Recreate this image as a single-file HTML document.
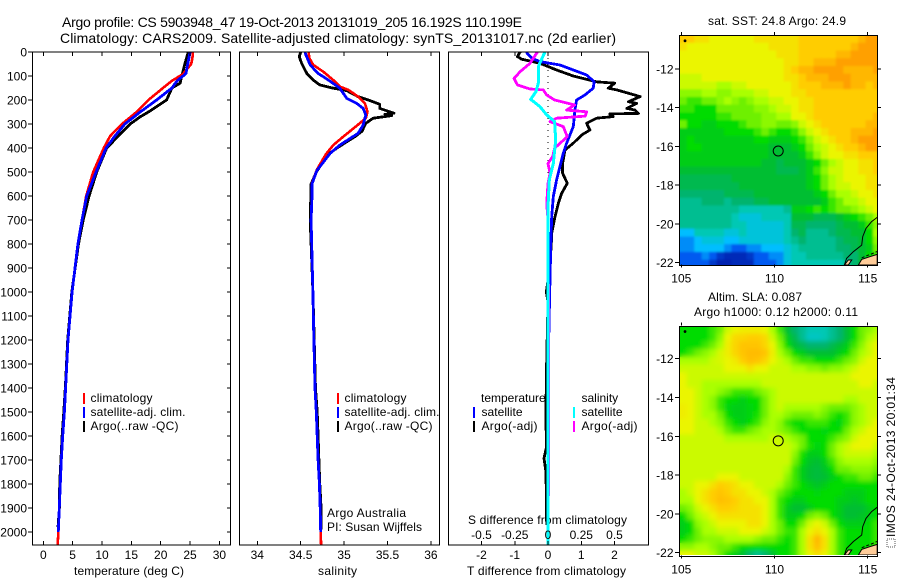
<!DOCTYPE html>
<html lang="en">
<head>
<meta charset="utf-8">
<title>Argo profile CS 5903948_47</title>
<style>
html,body{margin:0;padding:0;background:#fff;}
svg{display:block;font-family:"Liberation Sans",sans-serif;fill:#000;}
text{font-size:12px;}
.title{font-size:14px;}
</style>
</head>
<body>
<svg id="chart" width="900" height="580" viewBox="0 0 900 580" xmlns="http://www.w3.org/2000/svg">
<defs>
<clipPath id="clip-temp"><rect x="32.5" y="52" width="198" height="493"/></clipPath>
<clipPath id="clip-sal"><rect x="239.5" y="52" width="200" height="493"/></clipPath>
<clipPath id="clip-diff"><rect x="448.5" y="52" width="200" height="493"/></clipPath>
<clipPath id="clip-sst"><rect x="679.5" y="35" width="198" height="230"/></clipPath>
<clipPath id="clip-sla"><rect x="679.5" y="326" width="198" height="229"/></clipPath>
<filter id="soft-sst" x="-5%" y="-5%" width="110%" height="110%"><feGaussianBlur stdDeviation="1"/></filter>
<filter id="soft-sla" x="-5%" y="-5%" width="110%" height="110%"><feGaussianBlur stdDeviation="2.5"/></filter>
</defs>
<text class="title" x="62" y="27" textLength="460">Argo profile: CS 5903948_47  19-Oct-2013 20131019_205 16.192S 110.199E</text>
<text class="title" x="60" y="43" textLength="556">Climatology: CARS2009. Satellite-adjusted climatology: synTS_20131017.nc (2d earlier)</text>
<text x="74" y="575" textLength="110">temperature (deg C)</text>
<text x="318" y="575" textLength="39">salinity</text>
<text x="468" y="524" textLength="159">S difference from climatology</text>
<text x="467" y="575" textLength="159">T difference from climatology</text>
<text x="708" y="25" textLength="138">sat. SST: 24.8 Argo: 24.9</text>
<text x="708" y="301" textLength="94">Altim. SLA: 0.087</text>
<text x="694" y="316" textLength="164">Argo h1000: 0.12 h2000: 0.11</text>
<text x="327" y="517" textLength="79">Argo Australia</text>
<text x="327" y="531" textLength="95">PI: Susan Wijffels</text>
<g>
<rect x="887" y="539" width="8" height="8" fill="none" stroke="#555" stroke-width="1" stroke-dasharray="1 1"/>
<text transform="translate(895 537) rotate(-90)" textLength="160">IMOS 24-Oct-2013 20:01:34</text>
</g>
</svg>
<script>
// ----- profile depth ticks and axis ticks -----
const depthTicks = [0,100,200,300,400,500,600,700,800,900,1000,1100,1200,1300,1400,1500,1600,1700,1800,1900,2000];
const tempTicks = [0,5,10,15,20,25,30];
const salTicks = [34,34.5,35,35.5,36];
const tDiffTicks = [-2,-1,0,1,2];
const sDiffTicks = [-0.5,-0.25,0,0.25,0.5];
const lonTicks = [105,110,115];
const latTicks = [12,14,16,18,20,22];

// ----- temperature panel -----
const climTempDepth = [0,25,50,92,120,150,200,250,300,350,400,500,600,700,800,1000,1200,1400,1500,1600,1700,1800,1900,2000,2055];
const climTemp = [25.5,25.4,25.2,23.8,21.9,20.4,17.9,15.9,13.4,11.4,10.3,8.5,7.3,6.6,5.9,4.9,4.2,3.8,3.6,3.3,3.07,2.9,2.73,2.55,2.45];
const satTempDepth = [0,50,90,120,150,200,250,300,350,400,500,600,700,800,1000,1200,1400,1500,1600,1700,1800,1900,2000];
const satTemp = [25,24.6,24.3,22.8,21.9,19.3,16.5,13.9,12.2,10.7,9,7.4,6.6,5.9,4.9,4.2,3.8,3.6,3.3,3.07,2.9,2.73,2.55];
const argoTempDepth = [0,50,100,130,150,200,250,270,300,350,400,500,600,700,800,1000,1200,1400,1500,1600,1700,1800,1900,1980];
const argoTemp = [24.7,24.1,23.6,23.3,21.9,21,17.9,16.5,14.8,12.8,10.8,9.1,7.8,6.8,6,4.85,4.15,3.75,3.5,3.2,3,2.8,2.75,2.5];

// ----- salinity panel -----
const climSalDepth = [0,26,54,82,117,144,158,186,214,249,276,297,318,353,388,426,491,547,600,700,1000,1170,1400,1500,1600,1700,1800,1900,2000,2055];
const climSal = [34.59,34.6,34.645,34.76,34.875,34.95,35.05,35.16,35.24,35.27,35.25,35.18,35.11,34.99,34.875,34.79,34.685,34.63,34.63,34.62,34.64,34.65,34.665,34.68,34.69,34.7,34.715,34.725,34.73,34.735];
const satSalDepth = [0,12,54,89,117,151,193,214,235,262,304,339,360,388,422,494,550,600,700,1000,1170,1400,1500,1600,1700,1800,1900,2000];
const satSal = [34.55,34.56,34.61,34.7,34.82,34.95,35.03,35.145,35.22,35.25,35.22,35.16,35.07,34.95,34.84,34.685,34.63,34.63,34.62,34.64,34.65,34.665,34.68,34.69,34.7,34.715,34.725,34.73];
const argoSalDepth = [0,19,47,89,117,137,151,161,186,200,218,235,255,260,265,276,297,311,329,353,374,401,426,500,550,700,1000,1400,1500,1600,1700,1800,1900,1990];
const argoSal = [34.5,34.484,34.51,34.57,34.645,34.72,34.875,35.03,35.16,35.28,35.41,35.41,35.575,35.47,35.55,35.335,35.25,35.23,35.21,35.125,35.03,34.915,34.82,34.68,34.62,34.61,34.64,34.67,34.69,34.7,34.71,34.72,34.735,34.735];

// ----- difference panel -----
const satTDiffDepth = [0,26,40,54,75,96,124,151,179,200,242,311,380,422,533,603,686,769,1000,1200,1400,2000];
const satTDiff = [-0.66,-0.49,-0.24,0.36,0.76,1.16,1.39,1.36,1.11,0.86,0.81,0.76,0.56,0.46,0.26,0.16,0.11,0.09,0.05,0.02,0,0];
const argoTDiffDepth = [0,19,30,47,75,100,124,130,151,158,186,207,214,235,242,256,258,269,276,297,325,346,380,408,464,505,547,589,631,686,755,800,900,1000,1040,1360,1500,1650,1693,1750,1970];
const argoTDiff = [-0.84,-0.92,-0.79,-0.24,0.26,0.76,1.46,2.01,1.81,2.07,2.77,2.42,2.67,2.37,2.62,2.72,1.86,1.96,1.46,1.16,1.26,1.01,0.76,0.51,0.44,0.44,0.58,0.41,0.31,0.21,0.11,0.1,0.05,-0.05,0,-0.05,-0.06,-0.05,-0.12,-0.06,-0.04];
const satSDiffDepth = [0,61,130,165,197,228,262,290,367,464,533,644,1000,2055];
const satSDiff = [-0.023,-0.073,-0.073,-0.09,-0.13,-0.06,-0.01,0.05,0.058,0.04,0.01,0,0,0];
const argoSDiffDepth = [0,47,82,110,137,154,158,179,200,221,242,249,267,276,290,311,353,401,436,464,505,547,631,700,1000,1400,1850];
const argoSDiff = [-0.08,-0.135,-0.21,-0.255,-0.23,-0.135,-0.035,-0.01,0.05,0.2,0.14,0.29,0.28,0.065,0.015,0.115,0.145,0.05,0.035,0,0.015,0,-0.01,0,0.003,0.006,0.006];

// ----- map data: colour-scale value per 0.4 degree cell, rows north to south -----
const sstGrid = [
[10,10,9.5,9.5,9,9,9,9,9,9,9.5,9.5,9.5,9.5,9.5,9.5,10,10,10,10,10,10,10,10,10.5,11,11],
[9.5,9,9,9,9,9,9,9,9,9,9,9,9.5,9.5,9.5,9.5,10,10,10,10,10,10,10,10.5,11,11,11],
[9,9,9,9,9,9,9,9,9,9,9,9,9,9.5,9.5,9.5,10,10,10,10,10,10.5,10.5,11,11,11,11],
[9,9,9,9,9,9,9,9,9,9,9,9,9,9,9.5,9.5,10,10,10.5,10.5,10.5,11,11,11,11,11,11],
[9,9,9,9,9,9,9,9,9,9,9,9,9,9,9.5,10,10.5,10.5,11,11,11,11,10.5,10.5,10.5,10.5,11],
[8.5,8.5,8.5,9,9,9,9,9,9,9,9,9,9,9,9.5,9.5,10,10.5,10.5,10.5,11,11,11,10.5,10.5,10.5,10.5],
[8.5,8.5,8.5,8.5,8.5,8,8,8.5,8.5,9,9,9,9,9,9,9.5,10,10,10,10.5,10.5,10.5,11,10.5,10.5,10,10.5],
[7.5,7.5,7.5,8,8,7.5,7.5,8,8,8,8.5,8.5,9,9,9,9.5,9.5,10,10,10,10,10,10,10,10,10,10],
[7,6.5,6.5,7,7,7.5,8,7.5,7,7.5,8,8,8.5,8.5,9,9,9.5,9.5,10,10,10,10,10,10,10,10,10],
[6.5,6.5,6,6,6,7,7,7,7,7,7.5,7.5,8,8.5,8.5,9,9.5,9.5,10,10,10,10,10,10,10,10,10],
[6,6,6,6,6,6.5,6.5,7,7,7,7,7.5,7.5,8,8,9,9,9.5,10,10,10,10,10,10,10,10,10.5],
[7,6,6,5.5,5.5,6,6,6,6.5,7,7,7.5,7.5,7,7,7.5,8.5,9,9.5,10,10,10,10,10,10,10.5,10.5],
[5.5,5.5,5.5,5.5,5.5,5.5,6,6,6,6,6.5,7,6.5,6,6,6.5,7.5,8.5,9,9.5,10,10,10,10.5,10.5,10.5,11],
[5.5,6,5.5,5.5,5.5,5.5,5.5,5.5,5.5,5.5,6,6,5.5,5.5,5.5,6,6.5,7.5,8.5,9,9.5,10,10,10.5,11,11,11],
[5.5,6,6,5.5,5.5,5.5,5.5,5.5,5.5,5.5,5.5,5.5,5,5,5,5.5,6,7,8,8.5,9,9.5,10,10,10.5,11,11],
[5.5,5.5,5.5,5.5,5.5,5.5,5.5,5.5,5.5,5.5,5.5,5.5,5,5,5,5,5.5,6.5,7.5,8.5,9,9,9.5,9.5,10,10,10],
[5.5,5.5,5.5,5.5,5.5,5.5,5.5,5.5,5.5,5.5,5.5,5,5,4.5,5,5,5,5.5,6,7,8,8.5,9,9,9.5,9.5,10],
[5,5,5,5,5,5,5,5,5,5,5,5,5,4.5,4.5,4.5,5,5.5,6.5,7.5,8.5,8.5,9,9,9.5,9.5,10],
[4.5,4.5,4.5,4.5,4.5,4.5,4.5,5,5,5,5,5,5,5,5,5,5,5.5,6,7,8,8.5,9,9,9,9.5,9.5],
[4.5,4.5,4.5,4.5,4.5,4.5,4.5,4.5,5,5,5,5,5,5,5,5,5,5.5,6,7,8,8.5,8.5,9,9,9.5,9.5],
[4,4,4,4,4,4,4.5,4.5,4.5,4.5,5,5,5,5,5,5,5,5,5.5,6,7,8,8,8.5,9,9,9.5],
[3.5,3.5,3.5,4,4,4,3.5,4,4,4,4.5,4.5,5,5,5,5,5,5,5,5.5,6.5,7,8,8,8.5,9,9],
[3.5,3.5,3.5,3.5,3.5,3.5,3.5,3.5,3,3,3,3,3,3,3.5,5.5,5.5,6,6.5,6,6.5,7,7,7.5,8,8.5,9],
[3.5,3.5,3.5,3.5,3.5,3.5,3.5,3,2.5,2.5,2.5,3,3,3,3,5,5,5,4.5,4.5,4.5,5,5.5,6,6.5,7,8],
[3.5,3.5,3.5,3.5,3.5,3.5,3.5,3,3,2.5,2.5,2.5,2.5,2.5,3,4.5,4.5,4,4,4,4,4.5,5,5,5.5,6.5,7.5],
[2,2,3,3,3,3,2.5,2.5,3,2.5,2.5,2.5,2.5,2.5,3,4,4.5,3.5,3.5,3.5,4,4.5,4.5,5,5,6,8],
[1.5,1.5,2,2.5,2.5,2.5,2,2,2.5,2.5,2.5,2.5,2.5,2.5,3,3.5,4,3.5,3.5,3.5,3.5,4,4.5,4.5,5,6,7.5],
[1.5,1.5,2,2,2,2,1.5,1,1,1.5,1.5,2,2,2,2.5,3,3.5,3.5,3.5,3.5,3.5,4,4,4.5,5,5.5,7],
[1,1,1,1.5,1,0.5,0.3,0.3,0.3,0.5,1,1,1.5,1.5,2.5,3,3,3.5,3.5,3.5,3.5,3.5,4,4,5,6,6.5],
[1,1,1,1,0.5,0.2,0.2,0.3,0.3,0.3,1,1,1,1.5,2.5,3,3,3,3,3,3,3,3.5,4,5,6,6.5]
];
const slaGrid = [
[6,6,6,6,6.5,7,8.5,9,9.2,9.2,9.2,9,8,6.5,5,4,3.5,3,3,3,3.5,4,5,6,7,7.5,8],
[6,6,6,6,6.5,7.5,9,9.7,9.8,10,10,9.7,8.5,7,5.5,4.5,3.5,2.8,2.8,3,3.5,4,5,6,7,8,8.5],
[6,6,6,6.5,7,8,9.2,9.8,10.2,10.2,10.2,9.8,9,7.5,6,5,4.5,4,4,4,4.5,5,5.5,6.5,7.5,8.5,9],
[6,6.5,7,7.5,8,8.7,9.2,9.8,10.2,10.4,10.4,10.2,9.2,8,7,6,5.5,5,5,5,5,5.5,6,7,8,8.5,9],
[8,8,8,8,8.5,8.7,9,9.3,10,10.3,10.2,9.8,9,8.5,8,7,6.5,6.5,6,6,6,6.5,7,7.5,8.5,9,9],
[8.5,8.5,8.5,8.5,8.5,8.5,9,9,9,9.5,9,9,8.5,8.5,8.5,8,8,7.5,7.5,7,7.5,7.5,8,8.5,9,9,9],
[9,8.5,8.5,8.5,8.5,8.5,8.5,8.5,8.5,8.5,8.5,8.5,8.5,8.5,8.5,8.5,8.5,8.5,8.5,8.5,8.5,8.5,8.5,9,9,9,9],
[9,8.5,8.5,8,8,8,8,8,8,8,8,8.5,8.5,8.5,8.5,8.5,8.5,8.5,8.5,8.5,8.5,8.5,8.5,8.5,9,9,8.5],
[9,9,8.5,8,8,7.5,7,6.5,6.5,6.5,7,7.5,8,8.5,8.5,8.5,8.5,8.5,8.5,8.5,8.5,8.5,8.5,8.5,8.5,8.5,8.5],
[9,9,8.5,8,7.5,6.5,6,6,5.5,6,6,7,8,8.5,8.5,8.5,8.5,8.5,8.5,8.5,8.5,8.5,8,8,8.5,8.5,8.5],
[9.2,9,8.5,8,7.5,6.5,5.8,5.5,5.5,5.8,6,7,8,8.5,8,8,8,8,8,7.5,7,7,7,7.5,8,8.5,8.5],
[9.2,9,8.5,8,8,7,6,5.5,5.5,5.8,6.2,7,8,8,7.5,7,7,7,7.5,7,6.5,6,6.5,7.5,8,8.5,8.5],
[9,9,8.5,8.5,8,7.5,6.5,6,5.5,6,6.5,7.5,8,7.5,6.5,6,6,6.5,6.5,6.5,6,5.8,6.5,7.5,8,8.5,9],
[9,9,8.5,8.5,8.5,8,7,6.5,6.5,7,7.5,8,8,7.5,7,6.5,6,6,6,5.8,6,6,7,8,8.5,9,9],
[8.5,8.5,8.5,8.5,8.5,8.5,8,8,8,8,8,8,8.5,8.5,8,7.5,7,6,6,6,6.5,7,7.5,8.5,9,9,9],
[8.5,8.5,8.5,8.5,8.5,8.5,8.5,8.5,8.5,8.5,8.5,8.5,8.5,8.5,8.5,8,7,6.2,5.8,6,7,8,8.5,9,9,9,8.5],
[8.5,8.5,8.5,8.5,8.5,8.5,8.5,8.5,8.5,8.5,8.5,8.5,8.5,8.5,8.5,7.5,6.2,5.5,5.5,6,7,8,8.5,8.5,8.5,8.5,8],
[8.5,8.5,8.5,8.5,8.5,8.5,8.5,8.5,8.5,8.5,8.5,8.5,8.5,8.5,8.5,7,6,5.2,5,5.5,6.5,7.5,8,8,8,8,7.5],
[8.5,8.5,8.5,8.5,8.5,8.5,8.5,8.5,8.5,8.5,8.5,8.5,8.5,8.5,8,6.5,5.5,5,4.8,5.2,6,7,7,7.5,7.5,7.5,7],
[8.5,8.5,8.5,8.5,8.5,9,9,9,8.5,8.5,8.5,8.5,8.5,8.5,7.5,6.5,5.5,5,4.8,5,5.5,6,6.5,6.5,7,7,6.5],
[8.5,8.5,9,9,9.5,10,9.8,9.5,9,9,8.5,8.5,8.5,8,7,6.5,6,5.5,5.2,5.5,6,6,6,6,6,6,6],
[8,8.5,9,9.5,10,10.2,10,9.5,9.5,9,9,8.5,8,7,6.5,6,6,6,5.8,6,6,6,5.5,5.5,5.5,6,6],
[8,8,9,9.5,10,10.3,10.2,10,9.5,9.5,9,9,8,6.5,6,5.5,5.5,6,6,6,6,5.5,5.5,5.2,5.5,6,6],
[7,7.5,8.5,9,9.5,10,10,9.8,9.5,9.5,9.5,9,8,6.5,5.5,5,5,5.5,6,6,6,5.5,5,5,5,5.5,6],
[6,7,8,8.5,9,9.5,9.5,9.5,9.5,9.5,9.5,9,8,6.5,5.5,5.5,6,7,7.5,7,6,5.5,5,5,5.2,5.5,6],
[5.5,6,7.5,8,8.5,9,9,9,9,9.5,9.5,9,8,7,6,6,7,8.5,9,8.5,7,6,5.5,5.5,5.5,6,6.5],
[5.5,6,7,8,8,8.5,8.5,8.5,9,9,9,8.5,8,7,6.5,6.5,8,9,9.5,9,8,6.5,6,6,6,6,6.5],
[6,6.5,7,7.5,7.5,7.5,8,8,8,8,7.5,7,7,6.5,6,6.5,8,9.5,10.5,9.5,8,6.5,6,6,6,6,6.5],
[7.5,7.5,8,8,7.5,7,7,6.5,6,6,6,6,6,6,6,6.5,8,9.5,10.3,9.5,8,6.5,6,6,6,6,6.5],
[9,9,8.5,8.5,8,7,6,5.5,5,4,3.5,4,5,6,6,6.5,8,9,9.5,9,8,6.5,6,6,6,6,6.5]
];

// ----- coastline, land and profile location in degrees E / degrees S -----
const coastLon = [115.51,115.21,114.91,114.73,114.68,114.23,113.87,113.75];
const coastLat = [19.66,19.88,20.23,20.66,21.09,21.43,21.78,22.12];
const landLon = [114.5,114.68,115.12,115.51,115.51];
const landLat = [22.12,21.83,21.69,21.57,22.12];
const islandLon = [113.75,113.96,114.14,113.96];
const islandLat = [22.12,21.86,21.86,22.12];
const reefLon = [114.68,115.0,115.2,115.51];
const reefLat = [21.75,21.62,21.55,21.42];
const profileLon = 110.199;
const profileLat = 16.192;

// ----- colour scale stops -----
const scaleColors = [[0,20,160],[0,90,240],[0,190,255],[0,200,180],[0,180,110],[0,190,50],[0,220,0],[110,240,0],[170,255,0],[235,245,0],[255,205,0],[255,160,0]];

// ----- axis functions -----
const yD = d => 52 + 0.24 * d;
const xTemp = t => 43.3 + 5.87 * t;
const xSal = s => 257.3 + 86.8 * (s - 34);
const xTDiff = t => 548 + 33.25 * t;
const xSDiff = s => 548 + 133 * s;
const xLon = lon => 681.3 + 18.64 * (lon - 105);
const ySst = lat => 69 + 19.37 * (lat - 12);
const ySla = lat => 358.7 + 19.4 * (lat - 12);

const svg = document.getElementById('chart');
const NS = 'http://www.w3.org/2000/svg';

function make(tag, parent, attrs) {
  const e = document.createElementNS(NS, tag);
  for (const k in attrs) e.setAttribute(k, attrs[k]);
  parent.appendChild(e);
  return e;
}
function scaleColor(v) {
  const i = Math.max(0, Math.min(scaleColors.length - 2, Math.floor(v)));
  const f = Math.max(0, Math.min(1, v - i));
  const a = scaleColors[i], b = scaleColors[i + 1];
  return 'rgb(' + a.map((c, n) => Math.round(c + (b[n] - c) * f)).join(',') + ')';
}

function drawFrame(name, x, y, w, h) {
  const r = make('rect', svg, {x: x, y: y, width: w, height: h, fill: 'none', stroke: '#000', 'stroke-width': 1, 'shape-rendering': 'crispEdges'});
  
  
}
function tick(name, x1, y1, x2, y2, parent) {
  const l = make('line', parent || svg, {x1: x1, y1: y1, x2: x2, y2: y2, stroke: '#000', 'stroke-width': 1, 'shape-rendering': 'crispEdges'});
  
  
}
function label(name, x, y, str, anchor) {
  const t = make('text', svg, {x: x, y: y, 'text-anchor': anchor || 'middle'});
  t.textContent = str;
  
  
}
function series(name, depths, values, xFn, color, width, clip) {
  const pts = depths.map((d, i) => xFn(values[i]).toFixed(1) + ',' + yD(d).toFixed(1)).join(' ');
  const p = make('polyline', svg, {points: pts, fill: 'none', stroke: color, 'stroke-width': width, 'stroke-linejoin': 'round', 'clip-path': 'url(#' + clip + ')', 'shape-rendering': 'crispEdges'});
  
  
}
function legendItem(name, barX, textX, y, color, str, width) {
  const b = make('rect', svg, {x: barX, y: y - 9, width: 2, height: 11, fill: color});
  
  
  const t = make('text', svg, {x: textX, y: y, textLength: width});
  t.textContent = str;
  
  
}

// ----- profile panels -----
series('temperature-argo-line', argoTempDepth, argoTemp, xTemp, '#000', 2.8, 'clip-temp');
series('temperature-climatology-line', climTempDepth, climTemp, xTemp, '#f00', 2.6, 'clip-temp');
series('temperature-satellite-line', satTempDepth, satTemp, xTemp, '#00f', 2.8, 'clip-temp');
series('salinity-argo-line', argoSalDepth, argoSal, xSal, '#000', 2.8, 'clip-sal');
series('salinity-climatology-line', climSalDepth, climSal, xSal, '#f00', 2.6, 'clip-sal');
series('salinity-satellite-line', satSalDepth, satSal, xSal, '#00f', 2.8, 'clip-sal');

const zeroLine = make('line', svg, {x1: xTDiff(0), y1: yD(0), x2: xTDiff(0), y2: yD(620), stroke: '#000', 'stroke-width': 1, 'stroke-dasharray': '1 5'});



series('t-difference-argo-line', argoTDiffDepth, argoTDiff, xTDiff, '#000', 2.8, 'clip-diff');
series('t-difference-satellite-line', satTDiffDepth, satTDiff, xTDiff, '#00f', 2.8, 'clip-diff');
series('s-difference-argo-line', argoSDiffDepth, argoSDiff, xSDiff, '#f0f', 2.8, 'clip-diff');
series('s-difference-satellite-line', satSDiffDepth, satSDiff, xSDiff, '#0ff', 3, 'clip-diff');

drawFrame('temperature-panel-frame', 32.5, 52, 198, 493);
drawFrame('salinity-panel-frame', 239.5, 52, 200, 493);
drawFrame('difference-panel-frame', 448.5, 52, 200, 493);

depthTicks.forEach(d => {
  tick('depth-tick-left', 28, yD(d), 32, yD(d));
  tick('depth-tick-right', 227, yD(d), 230, yD(d));
  label('depth-tick-label', 27, yD(d) + 4.5, String(d), 'end');
});
tempTicks.forEach(t => {
  tick('temperature-tick-top', xTemp(t), 52, xTemp(t), 56);
  tick('temperature-tick-bottom', xTemp(t), 541, xTemp(t), 545);
  label('temperature-tick-label', xTemp(t), 559, String(t));
});
salTicks.forEach(s => {
  tick('salinity-tick-top', xSal(s), 52, xSal(s), 56);
  tick('salinity-tick-bottom', xSal(s), 541, xSal(s), 545);
  label('salinity-tick-label', xSal(s), 559, String(s));
});
tDiffTicks.forEach(t => {
  tick('t-difference-tick-top', xTDiff(t), 52, xTDiff(t), 56);
  tick('t-difference-tick-bottom', xTDiff(t), 541, xTDiff(t), 545);
  label('t-difference-tick-label', xTDiff(t), 559, String(t));
});
sDiffTicks.forEach(s => {
  label('s-difference-tick-label', xSDiff(s), 539, String(s));
});

// ----- legends -----
legendItem('temperature-legend-climatology', 83, 90.5, 402, '#f00', 'climatology', 62);
legendItem('temperature-legend-satellite', 83, 90.5, 416, '#00f', 'satellite-adj. clim.', 95);
legendItem('temperature-legend-argo', 83, 90.5, 430, '#000', 'Argo(..raw -QC)', 88);
legendItem('salinity-legend-climatology', 337, 344.5, 402, '#f00', 'climatology', 62);
legendItem('salinity-legend-satellite', 337, 344.5, 416, '#00f', 'satellite-adj. clim.', 95);
legendItem('salinity-legend-argo', 337, 344.5, 430, '#000', 'Argo(..raw -QC)', 88);
label('difference-legend-temperature-heading', 481, 402, 'temperature', 'start');
label('difference-legend-salinity-heading', 581.5, 402, 'salinity', 'start');
legendItem('difference-legend-t-satellite', 473, 481.5, 416, '#00f', 'satellite', 41);
legendItem('difference-legend-t-argo', 473, 481.5, 430, '#000', 'Argo(-adj)', 56);
legendItem('difference-legend-s-satellite', 573, 581.5, 416, '#0ff', 'satellite', 41);
legendItem('difference-legend-s-argo', 573, 581.5, 430, '#f0f', 'Argo(-adj)', 56);

// ----- maps -----
function drawMap(prefix, grid, yFn, clip, lon0, lat0, soft) {
  const g = make('g', svg, {'clip-path': 'url(#' + clip + ')'});
  
  
  const cells = make('g', g, {id: prefix + '-cells'});
  
  
  grid.forEach((row, r) => row.forEach((v, c) => {
    const x0 = xLon(lon0 + c * 0.4), x1 = xLon(lon0 + (c + 1) * 0.4);
    const y0 = yFn(lat0 + r * 0.4), y1 = yFn(lat0 + (r + 1) * 0.4);
    const cell = make('rect', cells, {x: x0.toFixed(1), y: y0.toFixed(1), width: (x1 - x0 + 0.6).toFixed(1), height: (y1 - y0 + 0.6).toFixed(1), fill: scaleColor(v)});
    
    
  }));
  const blurred = make('use', g, {href: '#' + prefix + '-cells', filter: 'url(#' + soft + ')'});
  
  

  const toPts = (lons, lats) => lons.map((l, i) => xLon(l).toFixed(1) + ',' + yFn(lats[i]).toFixed(1)).join(' ');
  const land = make('polygon', g, {points: toPts(landLon, landLat), fill: '#ffcc99', stroke: '#000', 'stroke-width': 1});
  
  
  const island = make('polygon', g, {points: toPts(islandLon, islandLat), fill: '#ffcc99', stroke: '#000', 'stroke-width': 1});
  
  
  const coast = make('polyline', g, {points: toPts(coastLon, coastLat), fill: 'none', stroke: '#000', 'stroke-width': 1});
  
  
  const reef = make('polyline', g, {points: toPts(reefLon, reefLat), fill: 'none', stroke: '#000', 'stroke-width': 1, 'stroke-dasharray': '3 2'});
  
  
  const spot = make('circle', g, {cx: xLon(105.2), cy: yFn(lat0 + 0.3), r: 1.4, fill: '#000'});
  
  
  const loc = make('circle', g, {cx: xLon(profileLon), cy: yFn(profileLat) + 0.8, r: 5, fill: 'none', stroke: '#000', 'stroke-width': 1});
  
  

  const top = yFn(lat0), bottom = yFn(lat0 + 11.85);
  drawFrame(prefix + '-frame', 679.5, Math.round(top) + 0.5, 198, Math.round(bottom - top));
  lonTicks.forEach(l => {
    tick(prefix + '-lon-tick-top', xLon(l), top - 3, xLon(l), top);
    tick(prefix + '-lon-tick-bottom', xLon(l), bottom, xLon(l), bottom + 3);
    label(prefix + '-lon-label', xLon(l), bottom + 18, String(l));
  });
  latTicks.forEach(lat => {
    tick(prefix + '-lat-tick-left', 675, yFn(lat), 679, yFn(lat));
    tick(prefix + '-lat-tick-right', 877, yFn(lat), 881, yFn(lat));
    label(prefix + '-lat-label', 673.5, yFn(lat) + 4.5, '-' + lat, 'end');
  });
}
drawMap('sst-map', sstGrid, ySst, 'clip-sst', 104.89, 10.245, 'soft-sst');
drawMap('sla-map', slaGrid, ySla, 'clip-sla', 104.89, 10.3, 'soft-sla');
</script>
</body>
</html>
